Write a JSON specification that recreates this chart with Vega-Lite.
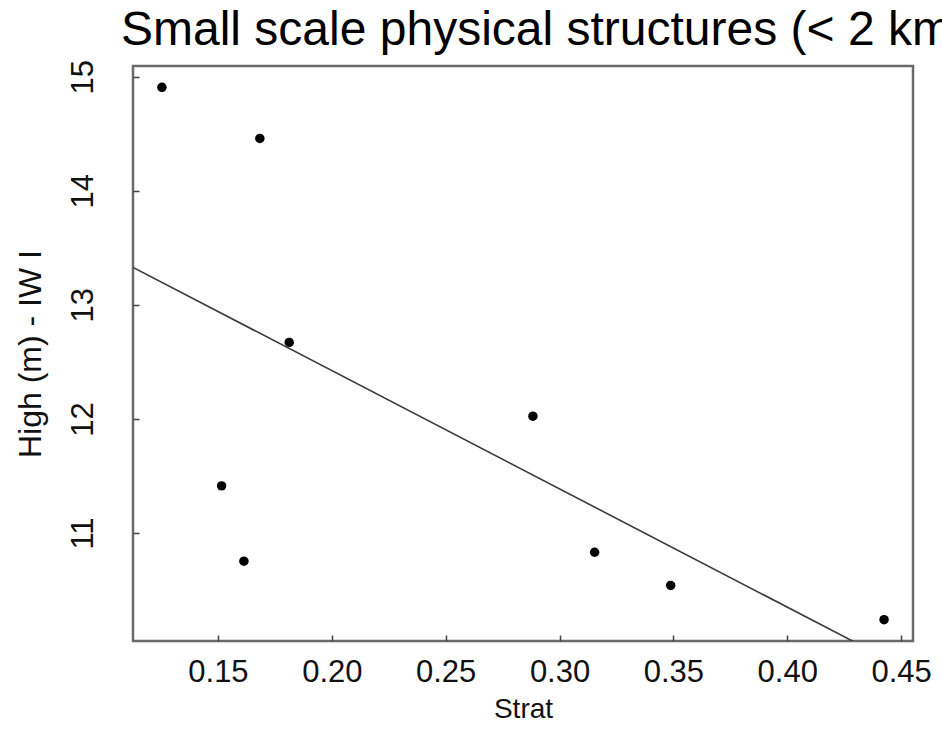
{
  "$schema": "https://vega.github.io/schema/vega-lite/v6.json",
  "width": 780,
  "height": 575,
  "autosize": {"type": "none"},
  "padding": {"left": 133, "top": 66, "right": 29, "bottom": 95},
  "background": "white",
  "title": {
    "text": "Small scale physical structures (< 2 km)",
    "anchor": "start",
    "frame": "group",
    "dx": -12,
    "dy": 53,
    "offset": 19,
    "baseline": "alphabetic",
    "font": "Liberation Sans",
    "fontSize": 48,
    "fontWeight": "normal",
    "color": "#000"
  },
  "config": {
    "view": {"stroke": "#6a6a6a", "strokeWidth": 2.5},
    "axis": {
      "grid": false,
      "domain": false,
      "tickColor": "#444",
      "tickWidth": 1.5,
      "tickSize": -6,
      "labelFont": "Liberation Sans",
      "labelFontSize": 31,
      "labelColor": "#111",
      "titleFont": "Liberation Sans",
      "titleFontSize": 28,
      "titleFontWeight": "normal",
      "titleColor": "#111"
    }
  },
  "data": {
    "values": [
      {"Strat": 0.1254, "High": 14.907},
      {"Strat": 0.1684, "High": 14.459},
      {"Strat": 0.1813, "High": 12.671},
      {"Strat": 0.1516, "High": 11.413},
      {"Strat": 0.1614, "High": 10.753},
      {"Strat": 0.2883, "High": 12.024},
      {"Strat": 0.3154, "High": 10.831},
      {"Strat": 0.3488, "High": 10.540},
      {"Strat": 0.4425, "High": 10.240}
    ]
  },
  "encoding": {
    "x": {
      "field": "Strat",
      "type": "quantitative",
      "title": "Strat",
      "scale": {"domain": [0.1127, 0.4552], "nice": false, "zero": false},
      "axis": {
        "values": [0.15, 0.2, 0.25, 0.3, 0.35, 0.4, 0.45],
        "format": ".2f",
        "labelPadding": 22,
        "labelBaseline": "top",
        "titlePadding": 8
      }
    },
    "y": {
      "field": "High",
      "type": "quantitative",
      "title": "High (m) - IW I",
      "scale": {"domain": [10.053, 15.094], "nice": false, "zero": false},
      "axis": {
        "values": [11, 12, 13, 14, 15],
        "format": "d",
        "labelAngle": 270,
        "labelAlign": "center",
        "labelBaseline": "bottom",
        "labelPadding": 40,
        "titleFontSize": 32,
        "titlePadding": 20
      }
    }
  },
  "layer": [
    {
      "mark": {"type": "point", "filled": true, "shape": "circle", "size": 90, "color": "#000", "opacity": 1}
    },
    {
      "transform": [
        {"regression": "High", "on": "Strat", "method": "linear", "extent": [0.1127, 0.4552]}
      ],
      "mark": {"type": "line", "color": "#3a3a3a", "strokeWidth": 1.6, "clip": true}
    }
  ]
}
